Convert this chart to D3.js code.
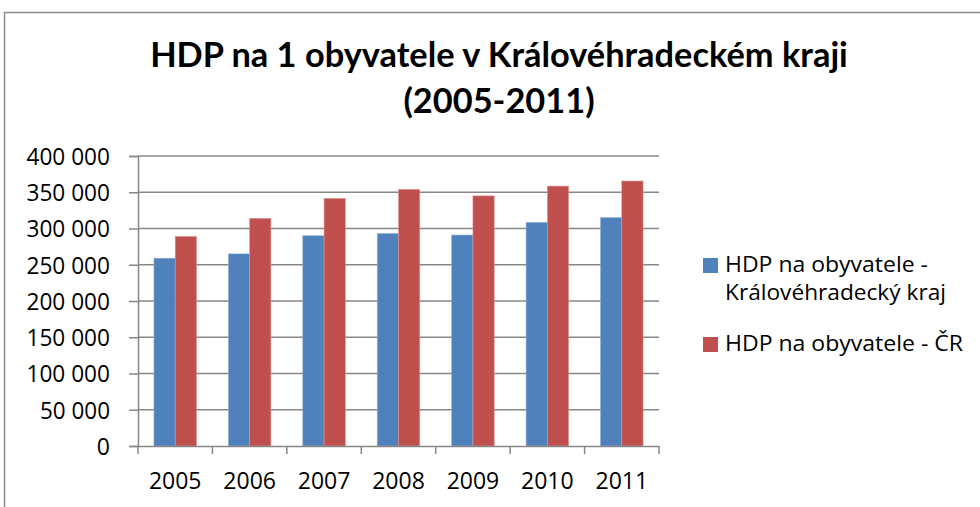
<!DOCTYPE html>
<html>
<head>
<meta charset="utf-8">
<script src="https://cdn.jsdelivr.net/npm/d3@7"></script>
<style>
  html, body { margin: 0; padding: 0; background: #fff; }
  svg { display: block; }
  text { fill: #000; }
</style>
</head>
<body>
<svg id="chart" width="980" height="507"></svg>
<script>
// ---- data ----
const years = ["2005", "2006", "2007", "2008", "2009", "2010", "2011"];
const seriesNames = ["HDP na obyvatele - Královéhradecký kraj", "HDP na obyvatele - ČR"];
const kraj = [259000, 265000, 290000, 293000, 291000, 308500, 315000];
const cr   = [289000, 314000, 341500, 354000, 345000, 358500, 365500];
const yTicks = [0, 50000, 100000, 150000, 200000, 250000, 300000, 350000, 400000];
const titleLines = ["HDP na 1 obyvatele v Královéhradeckém kraji", "(2005-2011)"];
const legendLines = [["HDP na obyvatele -", "Královéhradecký kraj"], ["HDP na obyvatele - ČR"]];
const colors = ["#4F81BD", "#C0504D"];

const REG = '"Open Sans", Carlito, Calibri, sans-serif';
const BOLD = 'Lato, Carlito, Calibri, sans-serif';

const svg = d3.select("#chart");

// fit text width to a target width
function fitLen(sel, w) {
  sel.each(function () {
    const n = this;
    const cur = n.getComputedTextLength();
    if (Math.abs(cur - w) > 1) {
      d3.select(n).attr("textLength", w).attr("lengthAdjust", "spacingAndGlyphs");
    }
  });
}

// outer chart frame
svg.append("rect").attr("x", 4.5).attr("y", 12.5).attr("width", 1000).attr("height", 520)
  .attr("fill", "none").attr("stroke", "#8c8c8c").attr("stroke-width", 1.5);

const plot = { left: 138, right: 659, top: 156, bottom: 446 };

const x0 = d3.scaleBand().domain(years).range([plot.left, plot.right]).paddingInner(0).paddingOuter(0);
const x1 = d3.scaleBand().domain([0, 1]).range([0, x0.bandwidth()]).paddingInner(0).paddingOuter(0.75);
const y = d3.scaleLinear().domain([0, 400000]).range([plot.bottom, plot.top]);

// gridlines
svg.append("g").selectAll("line").data(yTicks.filter(d => d > 0)).join("line")
  .attr("x1", plot.left).attr("x2", plot.right)
  .attr("y1", d => y(d)).attr("y2", d => y(d))
  .attr("stroke", "#878787").attr("stroke-width", 1.5);

// bars
const data = years.map((yr, i) => ({ yr, vals: [kraj[i], cr[i]] }));
const groups = svg.append("g").selectAll("g").data(data).join("g")
  .attr("transform", d => `translate(${x0(d.yr)},0)`);
groups.selectAll("rect").data(d => d.vals.map((v, k) => ({ v, k }))).join("rect")
  .attr("x", d => x1(d.k)).attr("width", x1.bandwidth())
  .attr("y", d => y(d.v)).attr("height", d => y(0) - y(d.v))
  .attr("fill", d => colors[d.k])
  .attr("stroke", d => d.k === 0 ? "#8fb0d8" : "#dc9593").attr("stroke-width", 0.6);

// y axis
const fmt = d => d === 0 ? "0" : d3.format(",")(d).replace(/,/g, " ");
const yAxis = svg.append("g").attr("transform", `translate(${plot.left},0)`)
  .call(d3.axisLeft(y).tickValues(yTicks).tickFormat(fmt).tickSize(9).tickPadding(19));
yAxis.select(".domain").attr("stroke", "#878787").attr("stroke-width", 1.5);
yAxis.selectAll(".tick line").attr("stroke", "#878787").attr("stroke-width", 1.5);
yAxis.selectAll("text").attr("font-size", 23).attr("font-family", REG).attr("dy", "0.36em");
yAxis.selectAll("text").each(function () {
  const t = d3.select(this);
  const w = t.text().length === 7 ? 83.5 : (t.text().length === 6 ? 70 : 13);
  fitLen(t, w);
});

// x axis
const xAxis = svg.append("g").attr("transform", `translate(0,${plot.bottom})`)
  .call(d3.axisBottom(x0).tickSize(0).tickPadding(24));
xAxis.select(".domain").attr("stroke", "#878787").attr("stroke-width", 1.5);
xAxis.selectAll("text").attr("font-size", 23).attr("font-family", REG)
  .attr("y", 489 - plot.bottom).attr("dy", 0);
fitLen(xAxis.selectAll("text"), 52);
// boundary tick marks
svg.append("g").selectAll("line").data(years.concat(["end"])).join("line")
  .attr("x1", (d, i) => i < years.length ? x0(d) : plot.right)
  .attr("x2", (d, i) => i < years.length ? x0(d) : plot.right)
  .attr("y1", plot.bottom).attr("y2", plot.bottom + 8)
  .attr("stroke", "#878787").attr("stroke-width", 1.5);

svg.selectAll(".tick text").attr("fill", "#000");

// title
const title = svg.append("g");
title.selectAll("text").data(titleLines).join("text")
  .attr("x", 499).attr("y", (d, i) => i === 0 ? 67 : 113)
  .attr("text-anchor", "middle").attr("font-weight", "bold").attr("font-size", 33)
  .attr("font-family", BOLD)
  .text(d => d);
{
  const t0 = title.select("text");
  const cur = t0.node().getComputedTextLength();
  const fs = 33 * 698 / cur;
  title.selectAll("text").attr("font-size", fs.toFixed(2));
}

// legend
const legendY = [258, 337];
const legendW = [[203, 221], [238]];
const lg = svg.append("g").selectAll("g").data(legendLines).join("g");
lg.append("rect").attr("x", 703).attr("y", (d, i) => legendY[i]).attr("width", 15).attr("height", 15)
  .attr("fill", (d, i) => colors[i]);
lg.each(function (lines, i) {
  d3.select(this).selectAll("text").data(lines).join("text")
    .attr("x", 725).attr("y", (d, j) => legendY[i] + 14 + j * 28)
    .attr("font-size", 22).attr("font-family", REG).text(d => d)
    .each(function (d, j) { fitLen(d3.select(this), legendW[i][j]); });
});
</script>
</body>
</html>
